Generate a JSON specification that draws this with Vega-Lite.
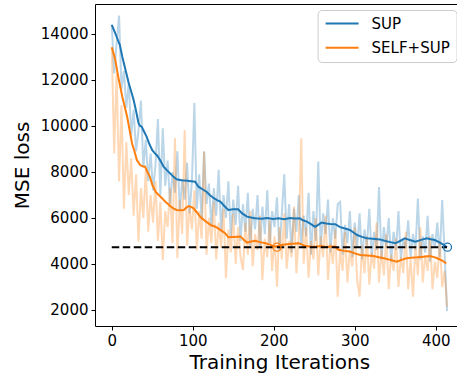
{
  "$schema": "https://vega.github.io/schema/vega-lite/v6.json",
  "autosize": "none",
  "width": 362,
  "height": 322,
  "padding": {"left": 95, "top": 4, "right": 0, "bottom": 50},
  "background": "white",
  "datasets": {
    "raw": [
      {"iter":0,"sup":14400,"selfsup":13400},{"iter":3,"sup":12300,"selfsup":8800},{"iter":6,"sup":13600,"selfsup":12300},{"iter":9,"sup":14800,"selfsup":7600},
      {"iter":12,"sup":11600,"selfsup":10900},{"iter":15,"sup":12400,"selfsup":6400},{"iter":18,"sup":10800,"selfsup":9300},{"iter":21,"sup":11900,"selfsup":7000},
      {"iter":24,"sup":9600,"selfsup":8600},{"iter":27,"sup":10700,"selfsup":6100},{"iter":30,"sup":8900,"selfsup":7900},{"iter":33,"sup":9800,"selfsup":4970},
      {"iter":36,"sup":11100,"selfsup":7300},{"iter":39,"sup":8200,"selfsup":6000},{"iter":42,"sup":9400,"selfsup":8100},{"iter":45,"sup":7600,"selfsup":5400},
      {"iter":48,"sup":8800,"selfsup":7000},{"iter":51,"sup":7200,"selfsup":5800},{"iter":54,"sup":8300,"selfsup":7600},{"iter":57,"sup":10300,"selfsup":5000},
      {"iter":60,"sup":7000,"selfsup":6700},{"iter":63,"sup":9900,"selfsup":4170},{"iter":66,"sup":7400,"selfsup":6300},{"iter":69,"sup":8500,"selfsup":5600},
      {"iter":72,"sup":6600,"selfsup":7300},{"iter":75,"sup":8000,"selfsup":4900},{"iter":78,"sup":7100,"selfsup":9480},{"iter":81,"sup":8900,"selfsup":4250},
      {"iter":84,"sup":6300,"selfsup":6800},{"iter":87,"sup":7700,"selfsup":5300},{"iter":90,"sup":6800,"selfsup":9830},{"iter":93,"sup":8400,"selfsup":4800},
      {"iter":96,"sup":6200,"selfsup":6500},{"iter":99,"sup":7600,"selfsup":5500},{"iter":102,"sup":11000,"selfsup":7200},{"iter":105,"sup":6400,"selfsup":4600},
      {"iter":108,"sup":7900,"selfsup":6300},{"iter":111,"sup":5900,"selfsup":5100},{"iter":114,"sup":8900,"selfsup":8880},{"iter":117,"sup":6600,"selfsup":4400},
      {"iter":120,"sup":7500,"selfsup":6000},{"iter":123,"sup":5600,"selfsup":4900},{"iter":126,"sup":7300,"selfsup":6700},{"iter":129,"sup":6100,"selfsup":4200},
      {"iter":132,"sup":8100,"selfsup":5800},{"iter":135,"sup":5400,"selfsup":4700},{"iter":138,"sup":7000,"selfsup":6400},{"iter":141,"sup":6000,"selfsup":3380},
      {"iter":144,"sup":7600,"selfsup":5500},{"iter":147,"sup":5200,"selfsup":4500},{"iter":150,"sup":6800,"selfsup":6200},{"iter":153,"sup":5700,"selfsup":4000},
      {"iter":156,"sup":7400,"selfsup":5600},{"iter":159,"sup":5000,"selfsup":4300},{"iter":162,"sup":6600,"selfsup":3740},{"iter":165,"sup":5400,"selfsup":5800},
      {"iter":168,"sup":7100,"selfsup":4400},{"iter":171,"sup":4800,"selfsup":6300},{"iter":174,"sup":6400,"selfsup":3900},{"iter":177,"sup":5500,"selfsup":5300},
      {"iter":180,"sup":7000,"selfsup":4600},{"iter":183,"sup":4700,"selfsup":6100},{"iter":186,"sup":6500,"selfsup":3300},{"iter":189,"sup":5300,"selfsup":5100},
      {"iter":192,"sup":7200,"selfsup":4300},{"iter":195,"sup":4900,"selfsup":5900},{"iter":198,"sup":6300,"selfsup":3700},{"iter":201,"sup":5600,"selfsup":5200},
      {"iter":204,"sup":6900,"selfsup":3010},{"iter":207,"sup":4600,"selfsup":5600},{"iter":210,"sup":6200,"selfsup":4200},{"iter":213,"sup":7900,"selfsup":6200},
      {"iter":216,"sup":5100,"selfsup":3800},{"iter":219,"sup":6600,"selfsup":5000},{"iter":222,"sup":4500,"selfsup":4300},{"iter":225,"sup":6400,"selfsup":6500},
      {"iter":228,"sup":5400,"selfsup":3600},{"iter":231,"sup":7000,"selfsup":5300},{"iter":234,"sup":4800,"selfsup":9470},{"iter":237,"sup":6100,"selfsup":4000},
      {"iter":240,"sup":5200,"selfsup":5600},{"iter":243,"sup":7100,"selfsup":3400},{"iter":246,"sup":4400,"selfsup":5000},{"iter":249,"sup":6300,"selfsup":4200},
      {"iter":252,"sup":5000,"selfsup":6000},{"iter":255,"sup":8450,"selfsup":3500},{"iter":258,"sup":4700,"selfsup":5200},{"iter":261,"sup":6200,"selfsup":4300},
      {"iter":264,"sup":5300,"selfsup":6100},{"iter":267,"sup":6800,"selfsup":3300},{"iter":270,"sup":4500,"selfsup":4900},{"iter":273,"sup":6000,"selfsup":4000},
      {"iter":276,"sup":5100,"selfsup":5500},{"iter":279,"sup":6600,"selfsup":2580},{"iter":282,"sup":6700,"selfsup":4700},{"iter":285,"sup":4400,"selfsup":3700},
      {"iter":288,"sup":5700,"selfsup":5400},{"iter":291,"sup":4900,"selfsup":3200},{"iter":294,"sup":6300,"selfsup":4600},{"iter":297,"sup":4300,"selfsup":3900},
      {"iter":300,"sup":5800,"selfsup":5600},{"iter":303,"sup":4700,"selfsup":3300},{"iter":306,"sup":6200,"selfsup":2580},{"iter":309,"sup":4200,"selfsup":4800},
      {"iter":312,"sup":5500,"selfsup":3600},{"iter":315,"sup":4800,"selfsup":5200},{"iter":318,"sup":6400,"selfsup":3100},{"iter":321,"sup":4300,"selfsup":4500},
      {"iter":324,"sup":5400,"selfsup":3800},{"iter":327,"sup":4600,"selfsup":5800},{"iter":330,"sup":7350,"selfsup":3200},{"iter":333,"sup":4200,"selfsup":4600},
      {"iter":336,"sup":5600,"selfsup":3500},{"iter":339,"sup":4700,"selfsup":5300},{"iter":342,"sup":6000,"selfsup":2900},{"iter":345,"sup":4100,"selfsup":4400},
      {"iter":348,"sup":5400,"selfsup":3700},{"iter":351,"sup":4600,"selfsup":5100},{"iter":354,"sup":6300,"selfsup":3000},{"iter":357,"sup":4200,"selfsup":4300},
      {"iter":360,"sup":5100,"selfsup":3600},{"iter":363,"sup":4700,"selfsup":5400},{"iter":366,"sup":5900,"selfsup":2900},{"iter":369,"sup":4300,"selfsup":4200},
      {"iter":372,"sup":5300,"selfsup":2580},{"iter":375,"sup":4600,"selfsup":4800},{"iter":378,"sup":6850,"selfsup":3500},{"iter":381,"sup":4200,"selfsup":5600},
      {"iter":384,"sup":5200,"selfsup":3200},{"iter":387,"sup":4500,"selfsup":4400},{"iter":390,"sup":6100,"selfsup":3700},{"iter":393,"sup":4100,"selfsup":5200},
      {"iter":396,"sup":5300,"selfsup":2900},{"iter":399,"sup":4700,"selfsup":4100},{"iter":402,"sup":5800,"selfsup":3400},{"iter":405,"sup":4300,"selfsup":5000},
      {"iter":408,"sup":6780,"selfsup":3000},{"iter":411,"sup":4500,"selfsup":3700},{"iter":414,"sup":1950,"selfsup":2140}
    ],
    "smooth": [
      {"iter":0,"series":"SUP","loss":14400},{"iter":3,"series":"SUP","loss":14150},{"iter":6,"series":"SUP","loss":13880},{"iter":10,"series":"SUP","loss":13520},
      {"iter":13,"series":"SUP","loss":13010},{"iter":17,"series":"SUP","loss":12430},{"iter":21,"series":"SUP","loss":11860},{"iter":24,"series":"SUP","loss":11500},
      {"iter":27,"series":"SUP","loss":11130},{"iter":30,"series":"SUP","loss":10650},{"iter":33,"series":"SUP","loss":10120},{"iter":35,"series":"SUP","loss":10000},
      {"iter":37,"series":"SUP","loss":9970},{"iter":40,"series":"SUP","loss":9750},{"iter":43,"series":"SUP","loss":9540},{"iter":46,"series":"SUP","loss":9250},
      {"iter":50,"series":"SUP","loss":8950},{"iter":53,"series":"SUP","loss":8820},{"iter":56,"series":"SUP","loss":8720},{"iter":60,"series":"SUP","loss":8500},
      {"iter":64,"series":"SUP","loss":8230},{"iter":68,"series":"SUP","loss":8080},{"iter":72,"series":"SUP","loss":7940},{"iter":76,"series":"SUP","loss":7800},
      {"iter":80,"series":"SUP","loss":7680},{"iter":86,"series":"SUP","loss":7640},{"iter":93,"series":"SUP","loss":7620},{"iter":98,"series":"SUP","loss":7600},
      {"iter":103,"series":"SUP","loss":7580},{"iter":107,"series":"SUP","loss":7360},{"iter":112,"series":"SUP","loss":7250},{"iter":117,"series":"SUP","loss":7140},
      {"iter":121,"series":"SUP","loss":7000},{"iter":126,"series":"SUP","loss":6860},{"iter":130,"series":"SUP","loss":6780},{"iter":134,"series":"SUP","loss":6710},
      {"iter":139,"series":"SUP","loss":6520},{"iter":144,"series":"SUP","loss":6350},{"iter":150,"series":"SUP","loss":6380},{"iter":156,"series":"SUP","loss":6380},
      {"iter":161,"series":"SUP","loss":6200},{"iter":167,"series":"SUP","loss":6060},{"iter":172,"series":"SUP","loss":6020},{"iter":177,"series":"SUP","loss":5990},
      {"iter":185,"series":"SUP","loss":5970},{"iter":192,"series":"SUP","loss":6000},{"iter":199,"series":"SUP","loss":5960},{"iter":206,"series":"SUP","loss":5990},
      {"iter":213,"series":"SUP","loss":5950},{"iter":220,"series":"SUP","loss":6000},{"iter":226,"series":"SUP","loss":5980},{"iter":232,"series":"SUP","loss":5990},
      {"iter":236,"series":"SUP","loss":5900},{"iter":241,"series":"SUP","loss":5840},{"iter":246,"series":"SUP","loss":5730},{"iter":251,"series":"SUP","loss":5620},
      {"iter":255,"series":"SUP","loss":5700},{"iter":259,"series":"SUP","loss":5800},{"iter":265,"series":"SUP","loss":5760},{"iter":270,"series":"SUP","loss":5740},
      {"iter":276,"series":"SUP","loss":5730},{"iter":282,"series":"SUP","loss":5600},{"iter":288,"series":"SUP","loss":5540},{"iter":294,"series":"SUP","loss":5480},
      {"iter":298,"series":"SUP","loss":5380},{"iter":303,"series":"SUP","loss":5260},{"iter":309,"series":"SUP","loss":5180},{"iter":315,"series":"SUP","loss":5120},
      {"iter":322,"series":"SUP","loss":5100},{"iter":331,"series":"SUP","loss":5070},{"iter":338,"series":"SUP","loss":5000},{"iter":344,"series":"SUP","loss":4950},
      {"iter":350,"series":"SUP","loss":4900},{"iter":356,"series":"SUP","loss":5000},{"iter":362,"series":"SUP","loss":5120},{"iter":368,"series":"SUP","loss":5040},
      {"iter":375,"series":"SUP","loss":4970},{"iter":382,"series":"SUP","loss":5050},{"iter":389,"series":"SUP","loss":5120},{"iter":394,"series":"SUP","loss":5080},
      {"iter":399,"series":"SUP","loss":5040},{"iter":404,"series":"SUP","loss":4950},{"iter":410,"series":"SUP","loss":4830},{"iter":414,"series":"SUP","loss":4730},
      {"iter":0,"series":"SELF+SUP","loss":13420},{"iter":4,"series":"SELF+SUP","loss":12940},{"iter":8,"series":"SELF+SUP","loss":12140},{"iter":13,"series":"SELF+SUP","loss":11270},
      {"iter":19,"series":"SELF+SUP","loss":10400},{"iter":25,"series":"SELF+SUP","loss":9250},{"iter":28,"series":"SELF+SUP","loss":8900},{"iter":31,"series":"SELF+SUP","loss":8520},
      {"iter":35,"series":"SELF+SUP","loss":8300},{"iter":38,"series":"SELF+SUP","loss":8250},{"iter":41,"series":"SELF+SUP","loss":8230},{"iter":44,"series":"SELF+SUP","loss":8000},
      {"iter":47,"series":"SELF+SUP","loss":7800},{"iter":50,"series":"SELF+SUP","loss":7450},{"iter":54,"series":"SELF+SUP","loss":7140},{"iter":58,"series":"SELF+SUP","loss":7000},
      {"iter":62,"series":"SELF+SUP","loss":6860},{"iter":67,"series":"SELF+SUP","loss":6680},{"iter":72,"series":"SELF+SUP","loss":6520},{"iter":76,"series":"SELF+SUP","loss":6420},
      {"iter":80,"series":"SELF+SUP","loss":6350},{"iter":84,"series":"SELF+SUP","loss":6340},{"iter":89,"series":"SELF+SUP","loss":6350},{"iter":92,"series":"SELF+SUP","loss":6450},
      {"iter":95,"series":"SELF+SUP","loss":6520},{"iter":98,"series":"SELF+SUP","loss":6480},{"iter":101,"series":"SELF+SUP","loss":6420},{"iter":105,"series":"SELF+SUP","loss":6250},
      {"iter":109,"series":"SELF+SUP","loss":6060},{"iter":115,"series":"SELF+SUP","loss":5880},{"iter":122,"series":"SELF+SUP","loss":5700},{"iter":128,"series":"SELF+SUP","loss":5620},
      {"iter":134,"series":"SELF+SUP","loss":5480},{"iter":140,"series":"SELF+SUP","loss":5340},{"iter":144,"series":"SELF+SUP","loss":5160},{"iter":150,"series":"SELF+SUP","loss":5170},
      {"iter":155,"series":"SELF+SUP","loss":5180},{"iter":159,"series":"SELF+SUP","loss":5190},{"iter":163,"series":"SELF+SUP","loss":5050},{"iter":167,"series":"SELF+SUP","loss":4930},
      {"iter":172,"series":"SELF+SUP","loss":4980},{"iter":177,"series":"SELF+SUP","loss":5010},{"iter":183,"series":"SELF+SUP","loss":4950},{"iter":190,"series":"SELF+SUP","loss":4900},
      {"iter":196,"series":"SELF+SUP","loss":4830},{"iter":202,"series":"SELF+SUP","loss":4750},{"iter":206,"series":"SELF+SUP","loss":4790},{"iter":210,"series":"SELF+SUP","loss":4830},
      {"iter":216,"series":"SELF+SUP","loss":4860},{"iter":223,"series":"SELF+SUP","loss":4880},{"iter":231,"series":"SELF+SUP","loss":4900},{"iter":235,"series":"SELF+SUP","loss":4840},
      {"iter":239,"series":"SELF+SUP","loss":4780},{"iter":245,"series":"SELF+SUP","loss":4760},{"iter":251,"series":"SELF+SUP","loss":4750},{"iter":258,"series":"SELF+SUP","loss":4780},
      {"iter":264,"series":"SELF+SUP","loss":4740},{"iter":270,"series":"SELF+SUP","loss":4760},{"iter":276,"series":"SELF+SUP","loss":4750},{"iter":280,"series":"SELF+SUP","loss":4620},
      {"iter":287,"series":"SELF+SUP","loss":4570},{"iter":294,"series":"SELF+SUP","loss":4540},{"iter":300,"series":"SELF+SUP","loss":4460},{"iter":307,"series":"SELF+SUP","loss":4390},
      {"iter":315,"series":"SELF+SUP","loss":4370},{"iter":323,"series":"SELF+SUP","loss":4350},{"iter":330,"series":"SELF+SUP","loss":4290},{"iter":336,"series":"SELF+SUP","loss":4250},
      {"iter":344,"series":"SELF+SUP","loss":4180},{"iter":352,"series":"SELF+SUP","loss":4100},{"iter":358,"series":"SELF+SUP","loss":4180},{"iter":364,"series":"SELF+SUP","loss":4250},
      {"iter":370,"series":"SELF+SUP","loss":4270},{"iter":377,"series":"SELF+SUP","loss":4290},{"iter":385,"series":"SELF+SUP","loss":4320},{"iter":393,"series":"SELF+SUP","loss":4350},
      {"iter":398,"series":"SELF+SUP","loss":4300},{"iter":402,"series":"SELF+SUP","loss":4250},{"iter":408,"series":"SELF+SUP","loss":4150},{"iter":413,"series":"SELF+SUP","loss":4030}
    ],
    "ref": [{"start":0,"end":414,"level":4730}],
    "marks": [{"iter":414.6,"loss":4730,"series":"SUP"},{"iter":204,"loss":4730,"series":"SELF+SUP"}]
  },
  "layer": [
    {
      "data": {"name": "raw"},
      "mark": {"type": "line", "color": "#1f77b4", "opacity": 0.3, "strokeWidth": 2},
      "encoding": {
        "x": {"field": "iter", "type": "quantitative", "scale": {"domain": [-20.7, 426.3], "nice": false, "zero": false},
              "axis": {"values": [0,100,200,300,400], "title": "Training Iterations", "titleX": 184.3, "titleY": 42, "titleBaseline": "alphabetic", "titleAnchor": null}},
        "y": {"field": "sup", "type": "quantitative", "title": "MSE loss", "scale": {"domain": [1304, 15304], "nice": false, "zero": false}}
      }
    },
    {
      "data": {"name": "raw"},
      "mark": {"type": "line", "color": "#ff7f0e", "opacity": 0.3, "strokeWidth": 2},
      "encoding": {
        "x": {"field": "iter", "type": "quantitative", "axis": {"orient": "top", "labels": false, "ticks": false, "title": null, "domain": true}},
        "y": {"field": "selfsup", "type": "quantitative", "title": "MSE loss"}
      }
    },
    {
      "data": {"name": "smooth"},
      "mark": {"type": "line", "strokeWidth": 2},
      "encoding": {
        "x": {"field": "iter", "type": "quantitative", "axis": null},
        "y": {"field": "loss", "type": "quantitative", "title": "MSE loss"},
        "color": {"field": "series", "type": "nominal", "sort": null,
                  "scale": {"domain": ["SUP", "SELF+SUP"], "range": ["#1f77b4", "#ff7f0e"]},
                  "legend": {"title": null}}
      }
    },
    {
      "data": {"name": "ref"},
      "mark": {"type": "rule", "color": "black", "strokeWidth": 2, "strokeDash": [7.5, 3.5]},
      "encoding": {
        "x": {"field": "start", "type": "quantitative", "axis": null},
        "x2": {"field": "end"},
        "y": {"field": "level", "type": "quantitative", "title": "MSE loss"}
      }
    },
    {
      "data": {"name": "marks"},
      "transform": [{"filter": "datum.series == 'SUP'"}],
      "mark": {"type": "point", "shape": "circle", "filled": false, "color": "#1f77b4", "size": 64, "strokeWidth": 1.3, "opacity": 1},
      "encoding": {
        "x": {"field": "iter", "type": "quantitative", "axis": null},
        "y": {"field": "loss", "type": "quantitative", "title": "MSE loss"}
      }
    },
    {
      "data": {"name": "marks"},
      "transform": [{"filter": "datum.series == 'SELF+SUP'"}],
      "mark": {"type": "point", "shape": "circle", "filled": false, "color": "#ff7f0e", "size": 64, "strokeWidth": 1.3, "opacity": 1},
      "encoding": {
        "x": {"field": "iter", "type": "quantitative", "axis": null},
        "y": {"field": "loss", "type": "quantitative", "title": "MSE loss"}
      }
    }
  ],
  "resolve": {"axis": {"x": "independent"}},
  "config": {
    "font": "DejaVu Sans",
    "view": {"stroke": null},
    "axis": {
      "grid": false,
      "labelFont": "DejaVu Sans", "labelFontSize": 15, "labelColor": "#000",
      "titleFont": "DejaVu Sans", "titleFontSize": 20, "titleFontWeight": "normal", "titleColor": "#000",
      "domainColor": "#000", "domainWidth": 1, "tickColor": "#000", "tickWidth": 1, "tickSize": 4, "labelPadding": 3
    },
    "axisY": {
      "values": [2000, 4000, 6000, 8000, 10000, 12000, 14000], "format": "d",
      "titleX": -66.4, "titleY": 161, "titleAlign": "center", "titleBaseline": "alphabetic", "titleAngle": -90
    },
    "legend": {
      "orient": "none", "legendX": 222.6, "legendY": 6, "direction": "vertical",
      "labelFont": "DejaVu Sans", "labelFontSize": 15, "labelColor": "#000",
      "symbolType": "M-1,0H5", "symbolSize": 121, "symbolStrokeWidth": 2, "labelOffset": 33,
      "padding": 6, "rowPadding": 8.2, "strokeColor": "#cccccc", "cornerRadius": 4, "fillColor": "rgba(255,255,255,0.8)"
    }
  }
}
